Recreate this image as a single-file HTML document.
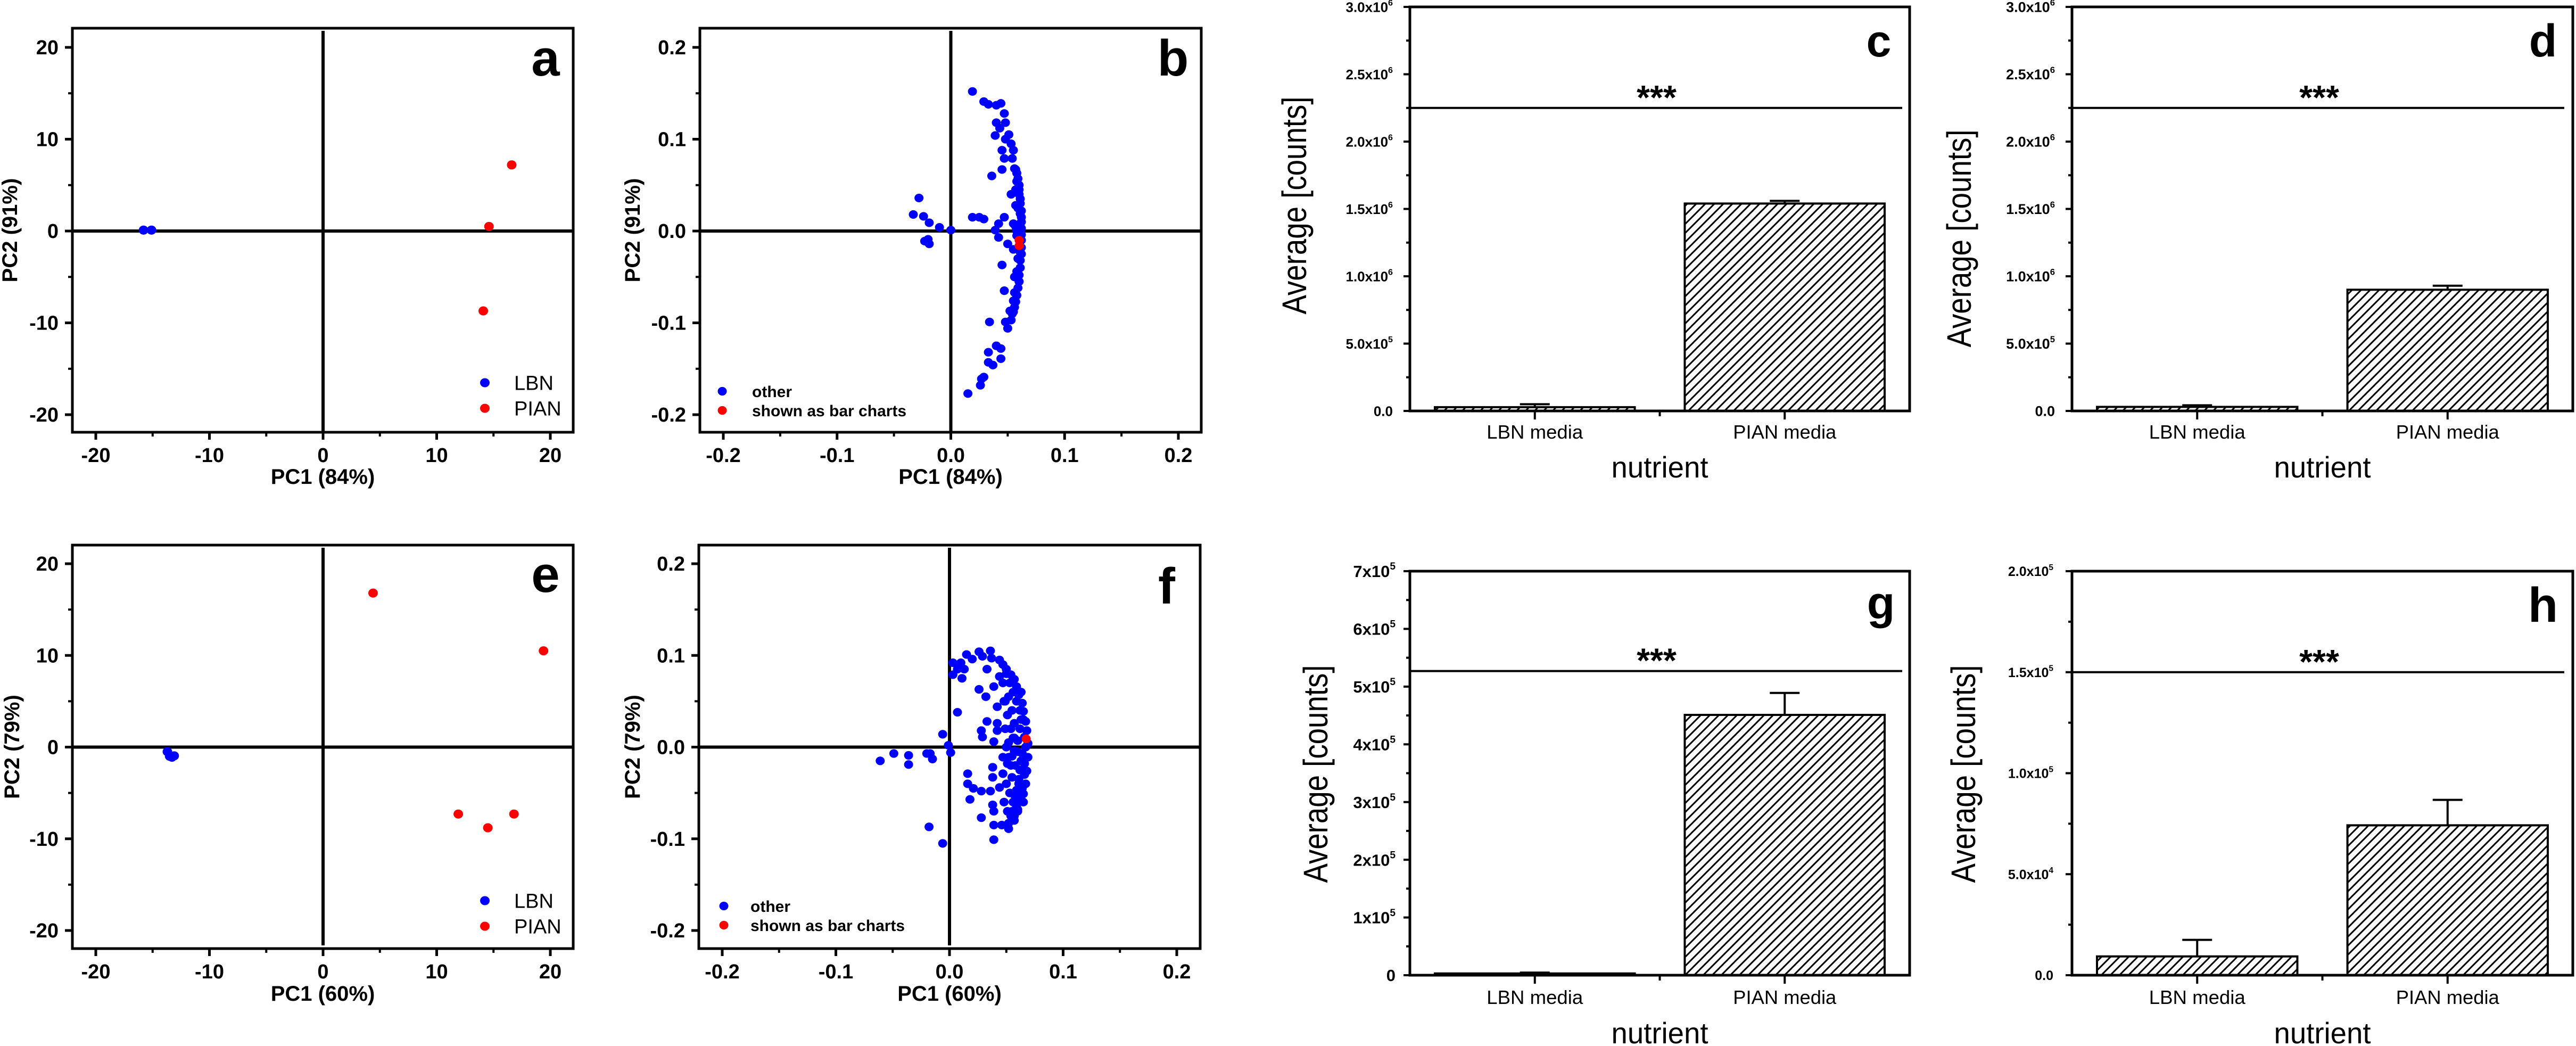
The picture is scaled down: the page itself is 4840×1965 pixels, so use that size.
<!DOCTYPE html>
<html><head><meta charset="utf-8">
<style>
html,body{margin:0;padding:0;background:#fff;}
svg{display:block;font-family:"Liberation Sans",Arial,sans-serif;}
</style></head>
<body>
<svg id="fig" xmlns="http://www.w3.org/2000/svg" width="4840" height="1965" viewBox="0 0 4840 1965">
<defs>
<pattern id="hatch" patternUnits="userSpaceOnUse" width="17" height="17">
<path d="M-4,21 L21,-4 M-4,4 L4,-4 M13,21 L21,13" stroke="#000" stroke-width="3"/>
</pattern>
</defs>
<rect x="0" y="0" width="4840" height="1965" fill="#fff"/>
</svg>
<script>
// ---- PCA scores (panels a, e) ----
const aLBNx=[-15.8,-15.1];
const aLBNy=[0.1,0.1];
const aPIANx=[16.6,14.6,14.1];
const aPIANy=[7.2,0.5,-8.7];
const eLBNx=[-13.7,-13.5,-13.1,-13.3];
const eLBNy=[-0.5,-1.0,-0.95,-1.1];
const ePIANx=[4.4,19.4,11.9,14.5,16.8];
const ePIANy=[16.8,10.5,-7.3,-8.8,-7.3];
// ---- PCA loadings (panels b, f) ----
const bOtherX=[0.019,0.029,0.033,0.040,0.044,0.047,0.040,0.048,0.043,0.039,0.051,0.048,0.053,0.045,0.055,0.047,0.054,0.045,0.057,0.036,0.058,0.053,0.060,0.057,0.061,0.047,0.042,0.039,0.042,0.055,0.061,-0.028,-0.033,-0.024,-0.019,-0.010,0.000,-0.023,-0.020,-0.019,0.019,0.025,0.029,0.050,0.055,0.061,0.045,0.058,0.060,0.047,0.056,0.055,0.052,0.055,0.034,0.048,0.053,0.050,0.040,0.044,0.033,0.033,0.037,0.044,0.029,0.026,0.027,0.015,0.056,0.058,0.059,0.060,0.060,0.061,0.061,0.062,0.062,0.062,0.062,0.062,0.062,0.062,0.062,0.061,0.061,0.060,0.060,0.059,0.058,0.057,0.056,0.054,0.057,0.058,0.059,0.059,0.058,0.056,0.057];
const bOtherY=[0.152,0.141,0.138,0.137,0.139,0.128,0.118,0.118,0.112,0.104,0.105,0.100,0.095,0.088,0.088,0.079,0.079,0.067,0.067,0.060,0.054,0.040,0.040,0.028,0.019,0.015,0.008,0.001,-0.007,0.008,0.008,0.036,0.018,0.016,0.009,0.004,0.001,-0.011,-0.009,-0.014,0.015,0.015,0.013,-0.014,-0.020,-0.023,-0.037,-0.044,-0.055,-0.065,-0.067,-0.076,-0.087,-0.088,-0.099,-0.099,-0.097,-0.106,-0.125,-0.128,-0.132,-0.143,-0.146,-0.139,-0.159,-0.168,-0.161,-0.177,0.068,0.063,0.057,0.050,0.045,0.035,0.030,0.022,0.015,0.010,0.003,-0.004,-0.010,-0.018,-0.025,-0.032,-0.040,-0.048,-0.055,-0.062,-0.070,-0.077,-0.083,-0.090,0.005,-0.005,0.025,-0.030,0.000,-0.050,0.045];
const bShownX=[0.060,0.060];
const bShownY=[-0.010,-0.016];
const fOtherX=[0.015,0.026,0.036,0.029,0.037,0.044,0.047,0.050,0.054,0.057,0.059,0.061,0.064,0.065,0.067,0.068,0.069,0.069,0.068,0.067,0.065,0.064,0.060,0.057,0.052,0.052,0.046,0.039,0.039,0.039,0.038,0.028,0.018,0.016,0.016,0.021,0.028,0.036,0.038,0.038,0.044,0.047,0.047,0.051,0.055,0.059,0.062,0.064,0.060,0.057,0.055,0.052,0.047,0.044,0.039,0.042,0.042,0.042,0.039,0.033,0.028,0.029,0.026,0.032,0.033,0.007,0.003,0.010,0.007,0.013,0.003,0.011,0.020,-0.006,-0.001,0.001,-0.020,-0.017,-0.015,-0.036,-0.036,-0.049,-0.061,-0.018,-0.006,0.052,0.057,0.066,0.066,0.062,0.060,0.058,0.063,0.061,0.056,0.054,0.050,0.055,0.049,
0.050,0.053,0.056,0.059,0.062,0.065,0.048,0.051,0.054,0.057,0.060,0.063,0.066,0.049,0.052,0.055,0.058,0.061,0.064,0.067,0.050,0.053,0.056,0.059,0.062,0.065,0.048,0.051,0.054,0.057,0.060,0.063];
const fOtherY=[0.101,0.104,0.105,0.099,0.097,0.095,0.090,0.085,0.079,0.074,0.066,0.057,0.048,0.039,0.028,0.018,0.004,-0.011,-0.026,-0.040,-0.051,-0.059,-0.068,-0.075,-0.083,-0.089,-0.085,-0.085,-0.101,-0.070,-0.063,-0.077,-0.057,-0.040,-0.029,-0.045,-0.048,-0.048,-0.033,-0.022,-0.044,-0.029,-0.011,-0.018,-0.033,-0.047,-0.025,-0.007,0.007,0.026,0.040,0.055,0.070,0.077,0.066,0.044,0.026,0.018,0.006,0.028,0.018,0.011,0.063,0.055,0.085,0.038,0.092,0.092,0.085,0.085,0.079,0.075,0.096,0.014,0.002,-0.006,-0.007,-0.007,-0.013,-0.009,-0.019,-0.007,-0.015,-0.087,-0.105,-0.011,-0.004,-0.018,0.011,0.020,-0.060,-0.055,0.030,-0.040,0.010,-0.020,0.000,-0.070,0.050,
0.080,0.070,0.060,0.050,0.040,0.030,0.050,0.035,0.020,0.010,-0.005,-0.015,-0.030,0.020,0.005,-0.010,-0.020,-0.035,-0.045,0.000,-0.040,-0.050,-0.060,-0.065,-0.055,-0.060,-0.060,-0.070,-0.075,-0.080,-0.070,0.060];
const fShownX=[0.0675];
const fShownY=[0.009];
const pcaTicksBig=[-20,-10,0,10,20];
const pcaTickLabelsBig=['-20','-10','0','10','20'];
const pcaTicksSmall=[-0.2,-0.1,0,0.1,0.2];
const pcaTickLabelsSmall=['-0.2','-0.1','0.0','0.1','0.2'];
// ---- bar charts ----
const categories=['LBN media','PIAN media'];
const cMeans=[28000,1540000];
const cErrs=[22000,20000];
const cSig=2250000;
const dMeans=[30000,900000];
const dErrs=[12000,30000];
const dSig=2250000;
const gMeans=[3000,451000];
const gErrs=[1500,38000];
const gSig=527000;
const hMeans=[9300,74200];
const hErrs=[8200,12600];
const hSig=150000;
const cTicks=[0,500000,1000000,1500000,2000000,2500000,3000000];
const cTickBase=['0.0','5.0x10','1.0x10','1.5x10','2.0x10','2.5x10','3.0x10'];
const cTickExp=['','5','6','6','6','6','6'];
const gTicks=[0,100000,200000,300000,400000,500000,600000,700000];
const gTickBase=['0','1x10','2x10','3x10','4x10','5x10','6x10','7x10'];
const gTickExp=['','5','5','5','5','5','5','5'];
const hTicks=[0,50000,100000,150000,200000];
const hTickBase=['0.0','5.0x10','1.0x10','1.5x10','2.0x10'];
const hTickExp=['','4','5','5','5'];

const NS='http://www.w3.org/2000/svg';
const svg=document.getElementById('fig');
function mk(tag,attrs,parent){const e=document.createElementNS(NS,tag);for(const k in attrs)e.setAttribute(k,attrs[k]);(parent||svg).appendChild(e);return e;}

function pcaPanel(p){
  const g=mk('g',{});
  
  
  const X=v=>p.xc+v*p.xs, Y=v=>p.yc-v*p.ys;
  const fr=mk('rect',{x:p.x0,y:p.y0,width:p.x1-p.x0,height:p.y1-p.y0,fill:'none',stroke:'#000','stroke-width':5},g);
  
  
  const vl=mk('line',{x1:X(0),x2:X(0),y1:p.y0+5,y2:p.vEnd,stroke:'#000','stroke-width':6},g);
  
  
  const hl=mk('line',{x1:p.x0,x2:p.x1,y1:Y(0),y2:Y(0),stroke:'#000','stroke-width':6},g);
  
  
  const ticks=p.ticks, labels=p.labels;
  for(let i=0;i<ticks.length;i++){
    const t=ticks[i];
    mk('line',{x1:X(t),x2:X(t),y1:p.y1,y2:p.y1+14,stroke:'#000','stroke-width':5},g);
    mk('line',{x1:p.x0-14,x2:p.x0,y1:Y(t),y2:Y(t),stroke:'#000','stroke-width':5},g);
    const tx=mk('text',{x:X(t),y:p.y1+56,'text-anchor':'middle','font-size':38,'font-weight':'bold'},g);
    tx.textContent=labels[i];
    
    
    const ty=mk('text',{x:p.x0-26,y:Y(t)+13,'text-anchor':'end','font-size':38,'font-weight':'bold'},g);
    ty.textContent=labels[i];
    
    
    if(i<ticks.length-1){
      const m=(ticks[i]+ticks[i+1])/2;
      mk('line',{x1:X(m),x2:X(m),y1:p.y1,y2:p.y1+8,stroke:'#000','stroke-width':4},g);
      mk('line',{x1:p.x0-8,x2:p.x0,y1:Y(m),y2:Y(m),stroke:'#000','stroke-width':4},g);
    }
  }
  const xt=mk('text',{x:(p.x0+p.x1)/2,y:p.titleY,'text-anchor':'middle','font-size':40,'font-weight':'bold'},g);
  xt.textContent=p.xTitle;
  
  
  const yt=mk('text',{x:0,y:0,'text-anchor':'middle','font-size':40,'font-weight':'bold',transform:`translate(${p.yTitleX},${(p.y0+p.y1)/2}) rotate(-90)`},g);
  yt.textContent=p.yTitle;
  
  
  const lt=mk('text',{x:p.letX,y:p.letY,'text-anchor':'middle','font-size':96,'font-weight':'bold'},g);
  lt.textContent=p.letter;
  
  
  p.series.forEach(s=>{
    for(let i=0;i<s.x.length;i++){
      const c=mk('ellipse',{cx:X(s.x[i]),cy:Y(s.y[i]),rx:p.r,ry:p.r*0.95,fill:s.color},g);
      
      
    }
  });
  p.series.forEach((s,i)=>{
    const ly=p.legY+i*p.legDy;
    const d=mk('ellipse',{cx:p.legX,cy:ly,rx:p.r,ry:p.r*0.95,fill:s.color},g);
    
    
    const t=mk('text',{x:p.legTx,y:ly+p.legFs*0.36,'font-size':p.legFs,'font-weight':p.legBold?'bold':'normal'},g);
    t.textContent=s.label;
    
    
  });
}

pcaPanel({name:'panel-a-pca-scores',x0:136,x1:1077,y0:53,y1:812,xc:607,xs:21.35,yc:434,ys:17.25,vEnd:812,ticks:pcaTicksBig,labels:pcaTickLabelsBig,titleY:909,xTitle:'PC1 (84%)',yTitle:'PC2 (91%)',yTitleX:32,letter:'a',letX:1025,letY:142,r:9,
  series:[{key:'lbn',label:'LBN',color:'#0000ff',x:aLBNx,y:aLBNy},{key:'pian',label:'PIAN',color:'#ff0000',x:aPIANx,y:aPIANy}],
  legX:911,legY:719,legDy:48,legTx:966,legFs:38,legBold:false});
pcaPanel({name:'panel-b-pca-loadings',x0:1315,x1:2257,y0:53,y1:812,xc:1786.5,xs:2137.5,yc:434,ys:1725,vEnd:812,ticks:pcaTicksSmall,labels:pcaTickLabelsSmall,titleY:909,xTitle:'PC1 (84%)',yTitle:'PC2 (91%)',yTitleX:1202,letter:'b',letX:2204,letY:142,r:8.5,
  series:[{key:'other',label:'other',color:'#0000ff',x:bOtherX,y:bOtherY},{key:'shown',label:'shown as bar charts',color:'#ff0000',x:bShownX,y:bShownY}],
  legX:1357,legY:735,legDy:36,legTx:1413,legFs:30,legBold:true});
pcaPanel({name:'panel-e-pca-scores',x0:136,x1:1077,y0:1024,y1:1782,xc:607,xs:21.35,yc:1403.5,ys:17.225,vEnd:1776,ticks:pcaTicksBig,labels:pcaTickLabelsBig,titleY:1880,xTitle:'PC1 (60%)',yTitle:'PC2 (79%)',yTitleX:36,letter:'e',letX:1025,letY:1112,r:9,
  series:[{key:'lbn',label:'LBN',color:'#0000ff',x:eLBNx,y:eLBNy},{key:'pian',label:'PIAN',color:'#ff0000',x:ePIANx,y:ePIANy}],
  legX:911,legY:1692,legDy:48,legTx:966,legFs:38,legBold:false});
pcaPanel({name:'panel-f-pca-loadings',x0:1313,x1:2255,y0:1024,y1:1782,xc:1784,xs:2135,yc:1403.5,ys:1722.5,vEnd:1776,ticks:pcaTicksSmall,labels:pcaTickLabelsSmall,titleY:1880,xTitle:'PC1 (60%)',yTitle:'PC2 (79%)',yTitleX:1202,letter:'f',letX:2192,letY:1134,r:8.5,
  series:[{key:'other',label:'other',color:'#0000ff',x:fOtherX,y:fOtherY},{key:'shown',label:'shown as bar charts',color:'#ff0000',x:fShownX,y:fShownY}],
  legX:1360,legY:1702,legDy:36,legTx:1410,legFs:30,legBold:true});

function barPanel(p){
  const g=mk('g',{});
  
  
  const Y=v=>p.y1-(v/p.ymax)*(p.y1-p.y0);
  const fr=mk('rect',{x:p.x0,y:p.y0,width:p.x1-p.x0,height:p.y1-p.y0,fill:'none',stroke:'#000','stroke-width':5},g);
  
  
  const t=p.ticks;
  for(let i=0;i<t.length;i++){
    mk('line',{x1:p.x0-12,x2:p.x0,y1:Y(t[i]),y2:Y(t[i]),stroke:'#000','stroke-width':4},g);
    if(i<t.length-1){const m=(t[i]+t[i+1])/2;mk('line',{x1:p.x0-7,x2:p.x0,y1:Y(m),y2:Y(m),stroke:'#000','stroke-width':4},g);}
    const tx=mk('text',{x:p.labX,y:Y(t[i])+p.tfs*0.36,'text-anchor':'end','font-size':p.tfs,'font-weight':'bold'},g);
    
    
    const s1=mk('tspan',{},tx);s1.textContent=p.base[i];
    if(p.exp[i]){const s2=mk('tspan',{dy:-p.tfs*0.45,'font-size':p.tfs*0.62},tx);s2.textContent=p.exp[i];}
  }
  const n=categories.length, slot=(p.x1-p.x0)/n;
  for(let i=1;i<n;i++){
    const xx=p.x0+slot*i;
    mk('line',{x1:xx,x2:xx,y1:p.y1,y2:p.y1+10,stroke:'#000','stroke-width':4},g);
  }
  for(let i=0;i<n;i++){
    const cx=p.x0+slot*(i+0.5);
    const bw=slot*0.4;
    mk('line',{x1:cx,x2:cx,y1:p.y1,y2:p.y1+16,stroke:'#000','stroke-width':4},g);
    const b=mk('rect',{x:cx-bw,y:Y(p.means[i]),width:bw*2,height:p.y1-Y(p.means[i]),fill:'url(#hatch)',stroke:'#000','stroke-width':4},g);
    
    
    const top=Y(p.means[i]), eTop=Y(p.means[i]+p.errs[i]);
    const e1=mk('line',{x1:cx,x2:cx,y1:top,y2:eTop,stroke:'#000','stroke-width':4},g);
    
    
    mk('line',{x1:cx-28,x2:cx+28,y1:eTop,y2:eTop,stroke:'#000','stroke-width':4},g);
    const cl=mk('text',{x:cx,y:p.catY,'text-anchor':'middle','font-size':36,textLength:p.catLen[i],lengthAdjust:'spacingAndGlyphs'},g);
    cl.textContent=categories[i];
    
    
  }
  const sy=Y(p.sig);
  const sl=mk('line',{x1:p.x0,x2:p.sigEnd,y1:sy,y2:sy,stroke:'#000','stroke-width':4},g);
  
  
  const st=mk('text',{x:(p.x0+p.x1)/2-6,y:sy+2,'text-anchor':'middle','font-size':64,'font-weight':'bold'},g);
  st.textContent='***';
  
  
  const xt=mk('text',{x:(p.x0+p.x1)/2,y:p.nutY,'text-anchor':'middle','font-size':56,textLength:182,lengthAdjust:'spacingAndGlyphs'},g);
  xt.textContent='nutrient';
  
  
  const yt=mk('text',{x:0,y:0,'text-anchor':'middle','font-size':64,textLength:409,lengthAdjust:'spacingAndGlyphs',transform:`translate(${p.yTitleX},${p.yTitleY}) rotate(-90)`},g);
  yt.textContent='Average [counts]';
  
  
  const lt=mk('text',{x:p.letX,y:p.letY,'text-anchor':'middle','font-size':p.letFs,'font-weight':'bold'},g);
  lt.textContent=p.letter;
  
  
}

barPanel({name:'panel-c-bar-chart',x0:2649,x1:3588,y0:13,y1:772,ymax:3000000,ticks:cTicks,base:cTickBase,exp:cTickExp,tfs:26,labX:2617,means:cMeans,errs:cErrs,sig:cSig,sigEnd:3574,catY:824,catLen:[181,194],nutY:897,yTitleX:2454,yTitleY:386,letter:'c',letX:3530,letY:106,letFs:84});
barPanel({name:'panel-d-bar-chart',x0:3893,x1:4834,y0:13,y1:772,ymax:3000000,ticks:cTicks,base:cTickBase,exp:cTickExp,tfs:27,labX:3861,means:dMeans,errs:dErrs,sig:dSig,sigEnd:4818,catY:824,catLen:[181,194],nutY:897,yTitleX:3703,yTitleY:448,letter:'d',letX:4778,letY:106,letFs:86});
barPanel({name:'panel-g-bar-chart',x0:2649,x1:3588,y0:1073,y1:1832,ymax:700000,ticks:gTicks,base:gTickBase,exp:gTickExp,tfs:31,labX:2622,means:gMeans,errs:gErrs,sig:gSig,sigEnd:3574,catY:1886,catLen:[181,194],nutY:1960,yTitleX:2494,yTitleY:1454,letter:'g',letX:3534,letY:1162,letFs:86});
barPanel({name:'panel-h-bar-chart',x0:3893,x1:4834,y0:1073,y1:1832,ymax:200000,ticks:hTicks,base:hTickBase,exp:hTickExp,tfs:25,labX:3858,means:hMeans,errs:hErrs,sig:hSig,sigEnd:4818,catY:1886,catLen:[181,194],nutY:1960,yTitleX:3711,yTitleY:1454,letter:'h',letX:4778,letY:1168,letFs:92});
</script>
</body></html>
